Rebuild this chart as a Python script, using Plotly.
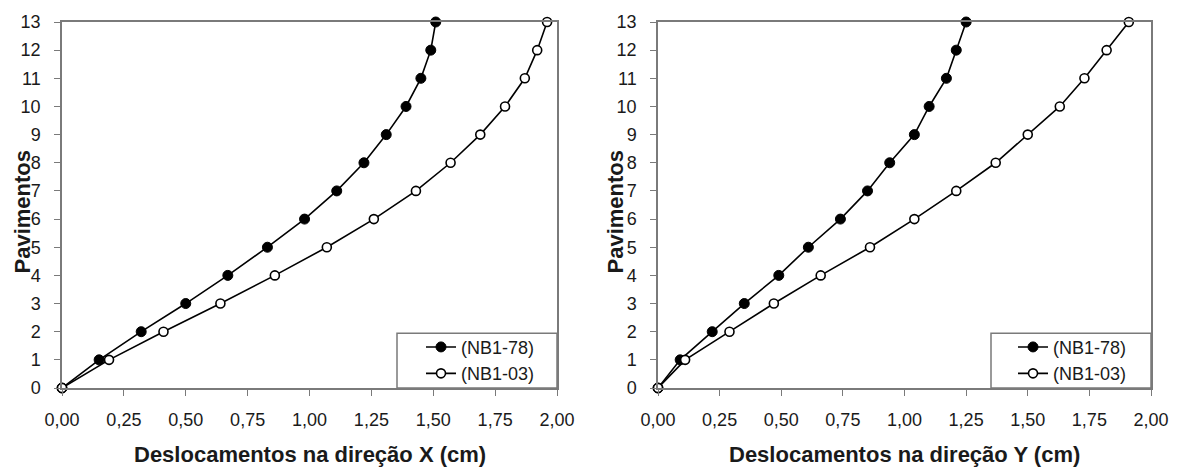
import plotly.graph_objects as go

pav = list(range(0, 14))

x_nb78 = [0.00, 0.15, 0.32, 0.50, 0.67, 0.83, 0.98, 1.11, 1.22, 1.31, 1.39, 1.45, 1.49, 1.51]
x_nb03 = [0.00, 0.19, 0.41, 0.64, 0.86, 1.07, 1.26, 1.43, 1.57, 1.69, 1.79, 1.87, 1.92, 1.96]
y_nb78 = [0.00, 0.09, 0.22, 0.35, 0.49, 0.61, 0.74, 0.85, 0.94, 1.04, 1.10, 1.17, 1.21, 1.25]
y_nb03 = [0.00, 0.11, 0.29, 0.47, 0.66, 0.86, 1.04, 1.21, 1.37, 1.50, 1.63, 1.73, 1.82, 1.91]

x_ticks = [0, 0.25, 0.5, 0.75, 1.0, 1.25, 1.5, 1.75, 2.0]
y_ticks = list(range(0, 14))

name78 = "(NB1-78)"
name03 = "(NB1-03)"
xtitle_left = "Deslocamentos na direção X (cm)"
xtitle_right = "Deslocamentos na direção Y (cm)"
ytitle = "Pavimentos"

FONT = "Liberation Sans, Arial, sans-serif"
TXT = "#1a1a1a"
AX = "#7a7a7a"

W, H = 1182, 470
ML, MR, MT, MB = 62, 31, 19, 82
PW = W - ML - MR
PH = H - MT - MB


def px_x(p):
    return (p - ML) / PW


def px_y(p):
    return 1 - (p - MT) / PH


fig = go.Figure()


def add_pair(xa, ya, d78, d03, legend):
    fig.add_trace(go.Scatter(
        x=d78, y=pav, xaxis=xa, yaxis=ya, name=name78, legend=legend,
        mode="lines+markers", cliponaxis=False,
        line=dict(color="black", width=1.6),
        marker=dict(symbol="circle", size=10, color="black",
                    line=dict(color="black", width=1)),
    ))
    fig.add_trace(go.Scatter(
        x=d03, y=pav, xaxis=xa, yaxis=ya, name=name03, legend=legend,
        mode="lines+markers", cliponaxis=False,
        line=dict(color="black", width=1.6),
        marker=dict(symbol="circle", size=9, color="white",
                    line=dict(color="black", width=1.6)),
    ))


add_pair("x", "y", x_nb78, x_nb03, "legend")
add_pair("x2", "y2", y_nb78, y_nb03, "legend2")

axis_common = dict(
    showline=True, linecolor=AX, linewidth=1.5, mirror=True,
    ticks="outside", ticklen=6, tickwidth=1.2, tickcolor=AX,
    showgrid=False, zeroline=False,
    tickfont=dict(family=FONT, size=18, color=TXT),
)

dom_l = [0, px_x(557)]
dom_r = [px_x(658), 1]

fig.update_layout(
    width=W, height=H,
    margin=dict(l=ML, r=MR, t=MT, b=MB),
    paper_bgcolor="white", plot_bgcolor="white",
    separators=",.",
    font=dict(family=FONT, color=TXT),
    xaxis=dict(domain=dom_l, range=[0, 2], tickvals=x_ticks, tickformat=".2f", anchor="y",
               ticklabelstandoff=9, **axis_common),
    yaxis=dict(domain=[0, 1], range=[0, 13], tickvals=y_ticks, anchor="x",
               ticklabelstandoff=10, **axis_common),
    xaxis2=dict(domain=dom_r, range=[0, 2], tickvals=x_ticks, tickformat=".2f", anchor="y2",
                ticklabelstandoff=9, **axis_common),
    yaxis2=dict(domain=[0, 1], range=[0, 13], tickvals=y_ticks, anchor="x2",
                ticklabelstandoff=10, **axis_common),
    legend=dict(x=px_x(421), y=px_y(360), xanchor="left", yanchor="middle",
                bgcolor="rgba(0,0,0,0)", borderwidth=0,
                font=dict(family=FONT, size=18, color=TXT), tracegroupgap=0),
    legend2=dict(x=px_x(1013), y=px_y(360), xanchor="left", yanchor="middle",
                 bgcolor="rgba(0,0,0,0)", borderwidth=0,
                 font=dict(family=FONT, size=18, color=TXT), tracegroupgap=0),
    showlegend=True,
)

# legend frames
fig.add_shape(type="rect", xref="x domain", yref="y domain",
              x0=(397 - 62) / 495, x1=1, y0=0, y1=(388 - 333) / 368,
              line=dict(color=AX, width=1.5), fillcolor="white", layer="below")
fig.add_shape(type="rect", xref="x2 domain", yref="y2 domain",
              x0=(991 - 658) / 493, x1=1, y0=0, y1=(388 - 333) / 368,
              line=dict(color=AX, width=1.5), fillcolor="white", layer="below")

# axis titles
for txt, cx in [(xtitle_left, 309.5), (xtitle_right, 904.5)]:
    fig.add_annotation(text="<b>%s</b>" % txt, xref="paper", yref="paper",
                       x=px_x(cx), y=px_y(455), showarrow=False,
                       xanchor="center", yanchor="middle",
                       font=dict(family=FONT, size=22, color=TXT))
for cx in [22, 615]:
    fig.add_annotation(text="<b>%s</b>" % ytitle, xref="paper", yref="paper",
                       x=px_x(cx), y=px_y(210), showarrow=False, textangle=-90,
                       xanchor="center", yanchor="middle",
                       font=dict(family=FONT, size=22, color=TXT))

fig.write_html("out.html")
